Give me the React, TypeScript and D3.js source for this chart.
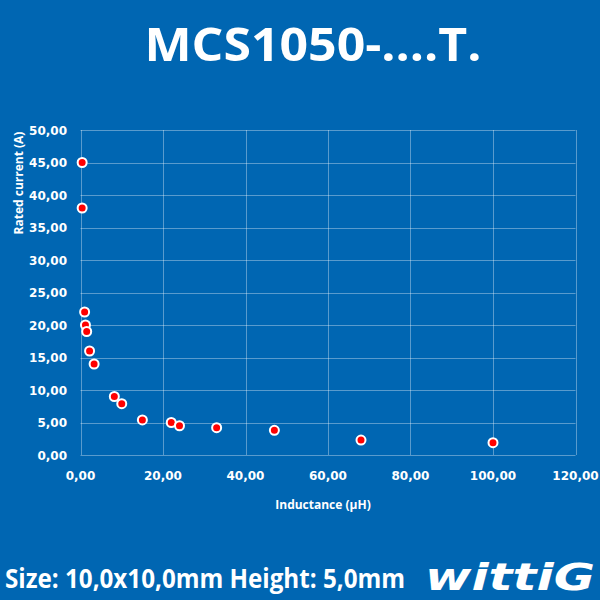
import { useEffect, useRef } from "react";
import * as d3 from "d3";

const inductance = [0.4, 0.4, 1.0, 1.2, 1.5, 2.2, 3.3, 8.2, 10, 15, 22, 24, 33, 47, 68, 100];
const ratedCurrent = [45, 38, 22, 20, 19, 16, 14, 9, 7.9, 5.4, 5, 4.5, 4.2, 3.8, 2.3, 1.9];
const xTicks = [0, 20, 40, 60, 80, 100, 120];
const yTicks = [0, 5, 10, 15, 20, 25, 30, 35, 40, 45, 50];

const fmt = (v: number) => v.toFixed(2).replace(".", ",");

const App = () => {
  const ref = useRef<SVGSVGElement | null>(null);

  useEffect(() => {
    if (!ref.current) return;
    const svg = d3.select(ref.current);
    svg.selectAll("*").remove();

    const width = 600,
      height = 600;
    const margin = { top: 130, right: 24.5, bottom: 145, left: 80.5 };

    svg.append("rect").attr("width", width).attr("height", height).attr("fill", "#0066B2");

    const x = d3.scaleLinear().domain([0, 120]).range([margin.left, width - margin.right]);
    const y = d3.scaleLinear().domain([0, 50]).range([height - margin.bottom, margin.top]);

    // title
    svg
      .append("text")
      .attr("x", 313)
      .attr("y", 61)
      .attr("text-anchor", "middle")
      .attr("fill", "#fff")
      .attr("font-family", "'Open Sans', sans-serif")
      .attr("font-weight", 700)
      .attr("font-size", 47)
      .attr("textLength", 337)
      .attr("lengthAdjust", "spacingAndGlyphs")
      .text("MCS1050-....T.");

    // grid
    const grid = svg.append("g").attr("stroke", "rgba(255,255,255,0.35)").attr("stroke-width", 1);
    grid
      .selectAll("line.h")
      .data(yTicks)
      .enter()
      .append("line")
      .attr("x1", x(0))
      .attr("x2", x(120))
      .attr("y1", (d) => Math.round(y(d)) + 0.5)
      .attr("y2", (d) => Math.round(y(d)) + 0.5);
    grid
      .selectAll("line.v")
      .data(xTicks)
      .enter()
      .append("line")
      .attr("x1", (d) => Math.round(x(d)) + 0.5)
      .attr("x2", (d) => Math.round(x(d)) + 0.5)
      .attr("y1", y(0))
      .attr("y2", y(50));

    const tickFont = "Verdana, 'DejaVu Sans', sans-serif";

    svg
      .append("g")
      .selectAll("text")
      .data(yTicks)
      .enter()
      .append("text")
      .attr("x", 67)
      .attr("y", (d) => y(d) + 4.5)
      .attr("text-anchor", "end")
      .attr("fill", "#fff")
      .attr("font-family", tickFont)
      .attr("font-weight", 700)
      .attr("font-size", 12)
      .text((d) => fmt(d));

    svg
      .append("g")
      .selectAll("text")
      .data(xTicks)
      .enter()
      .append("text")
      .attr("x", (d) => x(d))
      .attr("y", 480)
      .attr("text-anchor", "middle")
      .attr("fill", "#fff")
      .attr("font-family", tickFont)
      .attr("font-weight", 700)
      .attr("font-size", 12)
      .text((d) => fmt(d));

    // axis titles
    svg
      .append("text")
      .attr("x", 323)
      .attr("y", 509)
      .attr("text-anchor", "middle")
      .attr("fill", "#fff")
      .attr("font-family", "'Open Sans', sans-serif")
      .attr("font-weight", 700)
      .attr("font-size", 12)
      .text("Inductance (µH)");

    svg
      .append("text")
      .attr("transform", "translate(23,183) rotate(-90)")
      .attr("text-anchor", "middle")
      .attr("fill", "#fff")
      .attr("font-family", "'Open Sans', sans-serif")
      .attr("font-weight", 700)
      .attr("font-size", 12)
      .text("Rated current (A)");

    // points
    const data = inductance.map((l, i) => ({ l, c: ratedCurrent[i] }));
    svg
      .append("g")
      .selectAll("circle")
      .data(data)
      .enter()
      .append("circle")
      .attr("cx", (d) => x(d.l))
      .attr("cy", (d) => y(d.c))
      .attr("r", 4.5)
      .attr("fill", "#FF0000")
      .attr("stroke", "#fff")
      .attr("stroke-width", 2);

    // footer
    svg
      .append("text")
      .attr("x", 5)
      .attr("y", 588)
      .attr("fill", "#fff")
      .attr("font-family", "'Open Sans', sans-serif")
      .attr("font-weight", 700)
      .attr("font-size", 26)
      .attr("textLength", 400)
      .attr("lengthAdjust", "spacingAndGlyphs")
      .text("Size: 10,0x10,0mm Height: 5,0mm");

    svg
      .append("text")
      .attr("x", 425)
      .attr("y", 590)
      .attr("fill", "#fff")
      .attr("font-family", "'DejaVu Sans', sans-serif")
      .attr("font-weight", 900)
      .attr("font-style", "italic")
      .attr("font-size", 38)
      .attr("textLength", 170)
      .attr("lengthAdjust", "spacingAndGlyphs")
      .text("wittiG");
  }, []);

  return (
    <svg
      ref={ref}
      width={600}
      height={600}
      style={{ display: "block", position: "absolute", top: 0, left: 0 }}
    />
  );
};

export default App;
